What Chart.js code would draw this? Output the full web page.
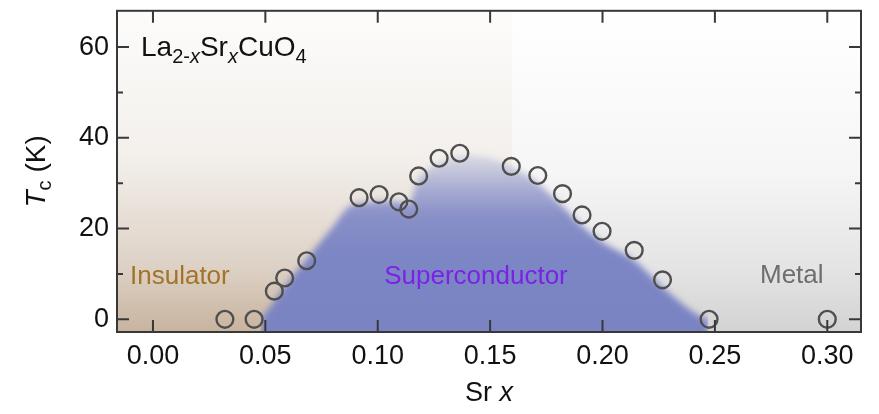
<!DOCTYPE html>
<html>
<head>
<meta charset="utf-8">
<script src="https://cdn.jsdelivr.net/npm/chart.js@4"></script>
<style>
  body { margin: 0; background: #fff; }
  #wrap { width: 879px; height: 414px; }
</style>
</head>
<body>
<div id="wrap"><canvas id="tcChart" width="879" height="414"></canvas></div>
<script>
// measured Tc points
const srX = [0.032, 0.045, 0.054, 0.0586, 0.0684, 0.0917, 0.1006, 0.1094, 0.1138, 0.1182, 0.1273, 0.1365, 0.1594, 0.1712, 0.1822, 0.1909, 0.1998, 0.2141, 0.2267, 0.2474, 0.30];
const tcK = [0, 0, 6.2, 9.1, 12.9, 26.8, 27.5, 25.9, 24.3, 31.6, 35.5, 36.6, 33.7, 31.7, 27.7, 23.0, 19.4, 15.2, 8.7, 0, 0];

// superconducting dome outline
const domeX = [0.048, 0.054, 0.0605, 0.07, 0.08, 0.0875, 0.095, 0.105, 0.114, 0.1172, 0.122, 0.13, 0.14, 0.15, 0.16, 0.17, 0.18, 0.19, 0.2, 0.214, 0.228, 0.244, 0.247];
const domeY = [0, 4, 8.5, 14.3, 20.4, 25, 25.8, 26, 25.6, 30, 32.8, 35, 36.2, 35.5, 33.5, 30.5, 26, 21, 17, 13, 6.5, 0.5, 0];

const xTicks = [0, 0.05, 0.10, 0.15, 0.20, 0.25, 0.30];
const yMajor = [0, 20, 40, 60];
const yMinor = [10, 30, 50];
const splitX = 0.16; // insulator / metal background split

const FONT = "'Liberation Sans', Arial, sans-serif";

function runsWidth(ctx, runs) {
  let w = 0;
  runs.forEach(r => {
    ctx.font = (r.italic ? 'italic ' : '') + r.size + 'px ' + FONT;
    w += ctx.measureText(r.t).width;
  });
  return w;
}
function drawRuns(ctx, x, y, runs) {
  runs.forEach(r => {
    ctx.font = (r.italic ? 'italic ' : '') + r.size + 'px ' + FONT;
    ctx.fillText(r.t, x, y + (r.dy || 0));
    x += ctx.measureText(r.t).width;
  });
}
function noPad(s) {
  s.paddingTop = 0; s.paddingBottom = 0; s.paddingLeft = 0; s.paddingRight = 0;
}

const decor = {
  id: 'decor',
  beforeDatasetsDraw(chart) {
    const {ctx, chartArea: a, scales: {x}} = chart;
    const sx = x.getPixelForValue(splitX);
    ctx.save();
    let g = ctx.createLinearGradient(0, a.bottom, 0, a.top);
    g.addColorStop(0, '#c8b39e');
    g.addColorStop(0.2, '#ddd1c5');
    g.addColorStop(0.55, '#f3f0ec');
    g.addColorStop(1, '#fdfcfb');
    ctx.fillStyle = g;
    ctx.fillRect(a.left, a.top, sx - a.left, a.bottom - a.top);
    g = ctx.createLinearGradient(0, a.bottom, 0, a.top);
    g.addColorStop(0, '#d3d3d3');
    g.addColorStop(0.2, '#e4e4e4');
    g.addColorStop(0.5, '#f6f6f6');
    g.addColorStop(1, '#ffffff');
    ctx.fillStyle = g;
    ctx.fillRect(sx, a.top, a.right - sx, a.bottom - a.top);
    ctx.restore();
    // soften the dome edge
    ctx.save();
    ctx.filter = 'blur(3px)';
  },
  afterDatasetDraw(chart, args) {
    if (args.index === 1) chart.ctx.restore();
  },
  afterDraw(chart) {
    const {ctx, chartArea: a, scales: {x, y}} = chart;
    ctx.save();
    ctx.strokeStyle = '#383838';
    ctx.lineWidth = 2;
    ctx.beginPath();
    xTicks.forEach(v => {
      const px = x.getPixelForValue(v);
      ctx.moveTo(px, a.bottom); ctx.lineTo(px, a.bottom - 12);
      ctx.moveTo(px, a.top); ctx.lineTo(px, a.top + 12);
    });
    yMajor.forEach(v => {
      const py = y.getPixelForValue(v);
      ctx.moveTo(a.left, py); ctx.lineTo(a.left + 12, py);
      ctx.moveTo(a.right, py); ctx.lineTo(a.right - 12, py);
    });
    yMinor.forEach(v => {
      const py = y.getPixelForValue(v);
      ctx.moveTo(a.left, py); ctx.lineTo(a.left + 6, py);
      ctx.moveTo(a.right, py); ctx.lineTo(a.right - 6, py);
    });
    ctx.stroke();
    ctx.strokeRect(a.left, a.top, a.right - a.left, a.bottom - a.top);

    // texts
    ctx.textBaseline = 'alphabetic';
    ctx.textAlign = 'left';
    ctx.fillStyle = '#111';
    drawRuns(ctx, 141, 56, [
      {t: 'La', size: 28}, {t: '2-', size: 20, dy: 7}, {t: 'x', size: 20, dy: 7, italic: true},
      {t: 'Sr', size: 28}, {t: 'x', size: 20, dy: 7, italic: true},
      {t: 'CuO', size: 28}, {t: '4', size: 20, dy: 7}
    ]);
    ctx.font = '26px ' + FONT;
    ctx.fillStyle = '#a27428';
    ctx.fillText('Insulator', 130, 284);
    ctx.fillStyle = '#7a22e6';
    ctx.textAlign = 'center';
    ctx.fillText('Superconductor', 476, 284);
    ctx.fillStyle = '#6e6e6e';
    ctx.textAlign = 'left';
    ctx.fillText('Metal', 760, 283);

    // axis titles
    ctx.fillStyle = '#111';
    const xr = [{t: 'Sr ', size: 27}, {t: 'x', size: 27, italic: true}];
    drawRuns(ctx, (a.left + a.right) / 2 - runsWidth(ctx, xr) / 2, 401, xr);
    const yr = [{t: 'T', size: 28, italic: true}, {t: 'c', size: 20, dy: 6}, {t: ' (K)', size: 28}];
    ctx.translate(45, (a.top + a.bottom) / 2);
    ctx.rotate(-Math.PI / 2);
    drawRuns(ctx, -runsWidth(ctx, yr) / 2, 0, yr);
    ctx.restore();
  }
};

new Chart(document.getElementById('tcChart'), {
  type: 'scatter',
  data: {
    datasets: [{
      label: 'Tc',
      data: srX.map((v, i) => ({x: v, y: tcK[i]})),
      pointRadius: 8.4,
      pointHoverRadius: 8.4,
      borderWidth: 2.4,
      borderColor: '#4f4f4f',
      backgroundColor: 'rgba(0,0,0,0)',
      showLine: false
    }, {
      type: 'line',
      label: 'dome',
      data: domeX.map((v, i) => ({x: v, y: domeY[i]})),
      pointRadius: 0,
      borderWidth: 0,
      borderColor: 'rgba(0,0,0,0)',
      cubicInterpolationMode: 'monotone',
      fill: {value: -12},
      backgroundColor(c) {
        const {chart} = c;
        if (!chart.chartArea) return '#7e87c4';
        const y = chart.scales.y;
        const g = chart.ctx.createLinearGradient(0, y.getPixelForValue(0), 0, y.getPixelForValue(38));
        g.addColorStop(0, '#7b84c3');
        g.addColorStop(0.4, '#7e87c5');
        g.addColorStop(0.6, '#8990c8');
        g.addColorStop(0.74, '#a5a9d2');
        g.addColorStop(0.87, '#c6c8db');
        g.addColorStop(1, '#e6e6ec');
        return g;
      }
    }]
  },
  options: {
    responsive: false,
    animation: false,
    layout: {padding: {top: 7, right: 18, left: 0, bottom: 0}},
    plugins: {legend: {display: false}, tooltip: {enabled: false}},
    scales: {
      x: {
        type: 'linear',
        min: -0.016, max: 0.315,
        grid: {display: false, drawTicks: false},
        border: {display: false},
        afterFit(s) { s.height = 82; noPad(s); },
        ticks: {
          stepSize: 0.05, includeBounds: false, padding: 8,
          color: '#111', font: {family: FONT, size: 27},
          callback: v => v.toFixed(2)
        }
      },
      y: {
        min: -2.8, max: 68,
        grid: {display: false, drawTicks: false},
        border: {display: false},
        afterFit(s) { s.width = 117; noPad(s); },
        ticks: {
          stepSize: 20, includeBounds: false, padding: 8,
          color: '#111', font: {family: FONT, size: 27}
        }
      }
    }
  },
  plugins: [decor]
});
</script>
</body>
</html>
